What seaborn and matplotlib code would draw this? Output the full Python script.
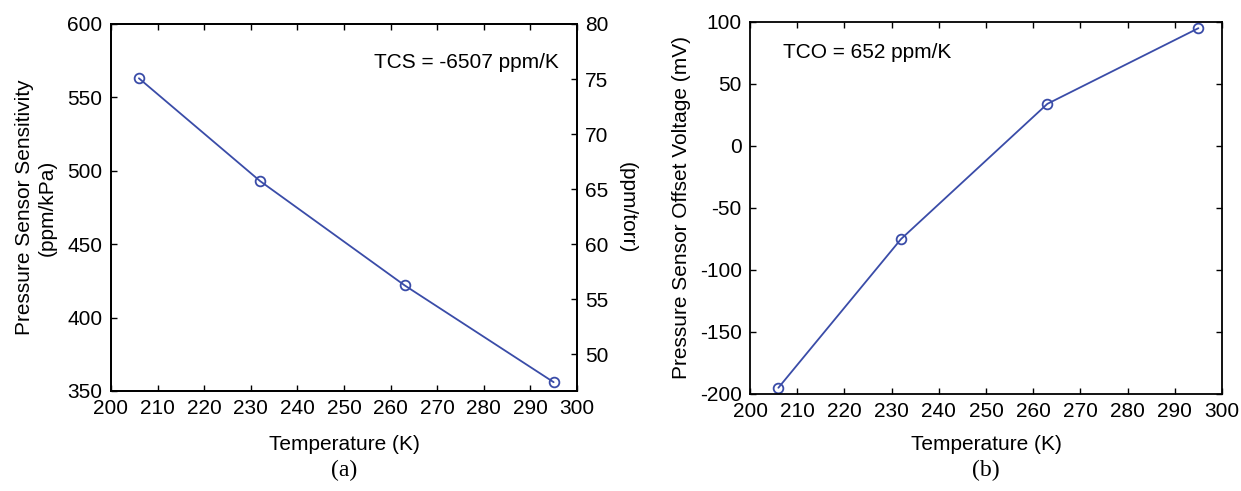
import pandas as pd
import numpy as np
import matplotlib
matplotlib.use('Agg')
import matplotlib.pyplot as plt
import seaborn as sns

# data
temp = [206, 232, 263, 295]
sensitivity = [563, 493, 422, 356]      # ppm/kPa
offset = [-195, -75, 34, 95]            # mV
KPA_TO_TORR = 0.133322

sns.set_style('ticks')
plt.rcParams['font.family'] = ['Liberation Sans', 'DejaVu Sans']
plt.rcParams['axes.unicode_minus'] = False
plt.rcParams['xtick.direction'] = 'in'
plt.rcParams['ytick.direction'] = 'in'
plt.rcParams['xtick.major.size'] = 4
plt.rcParams['ytick.major.size'] = 4
for k in ['text.color', 'axes.labelcolor', 'xtick.color', 'ytick.color', 'axes.edgecolor']:
    plt.rcParams[k] = 'black'

blue = '#3a4ca8'
fs = 15

df = pd.DataFrame({'Temperature': temp, 'Sensitivity': sensitivity, 'Offset': offset})

fig = plt.figure(figsize=(12.41, 4.91), dpi=100)
ax1 = fig.add_axes([0.0894, 0.2037, 0.3755, 0.7475])
ax2 = fig.add_axes([0.6044, 0.1976, 0.3803, 0.7576])

# panel (a)
sns.lineplot(data=df, x='Temperature', y='Sensitivity', ax=ax1, color=blue,
             marker='o', markersize=7, markerfacecolor='none',
             markeredgecolor=blue, markeredgewidth=1.3, linewidth=1.3)
ax1.set_xlim(200, 300)
ax1.set_ylim(350, 600)
ax1.set_xticks(np.arange(200, 301, 10))
ax1.set_yticks(np.arange(350, 601, 50))
ax1.set_xlabel('Temperature (K)', fontsize=fs, labelpad=12)
ax1.set_ylabel('Pressure Sensor Sensitivity\n(ppm/kPa)', fontsize=fs, labelpad=8)
ax1.tick_params(labelsize=fs, top=True, width=1, pad=6)
ax1.text(0.961, 0.896, 'TCS = -6507 ppm/K', transform=ax1.transAxes,
         ha='right', va='center', fontsize=fs)

ax1r = ax1.twinx()
ax1r.set_ylim(350 * KPA_TO_TORR, 600 * KPA_TO_TORR)
ax1r.set_yticks(np.arange(50, 81, 5))
ax1r.tick_params(labelsize=fs, direction='in', width=1, pad=6)
ax1r.set_ylabel('(ppm/torr)', fontsize=fs, rotation=270, labelpad=20)

# panel (b)
sns.lineplot(data=df, x='Temperature', y='Offset', ax=ax2, color=blue,
             marker='o', markersize=7, markerfacecolor='none',
             markeredgecolor=blue, markeredgewidth=1.3, linewidth=1.3)
ax2.set_xlim(200, 300)
ax2.set_ylim(-200, 100)
ax2.set_xticks(np.arange(200, 301, 10))
ax2.set_yticks(np.arange(-200, 101, 50))
ax2.set_xlabel('Temperature (K)', fontsize=fs, labelpad=10)
ax2.set_ylabel('Pressure Sensor Offset Voltage (mV)', fontsize=fs, labelpad=6)
ax2.tick_params(labelsize=fs, top=True, right=True, width=1, pad=6)
ax2.text(0.07, 0.917, 'TCO = 652 ppm/K', transform=ax2.transAxes,
         ha='left', va='center', fontsize=fs)

for ax in (ax1, ax1r, ax2):
    for s in ax.spines.values():
        s.set_visible(True)
        s.set_linewidth(1.3)
        s.set_color('black')

fig.text(0.2772, 0.042, '(a)', ha='center', va='center', fontsize=fs + 2,
         family=['Liberation Serif', 'DejaVu Serif'])
fig.text(0.7945, 0.042, '(b)', ha='center', va='center', fontsize=fs + 2,
         family=['Liberation Serif', 'DejaVu Serif'])

fig.savefig('out.png', dpi=100)
